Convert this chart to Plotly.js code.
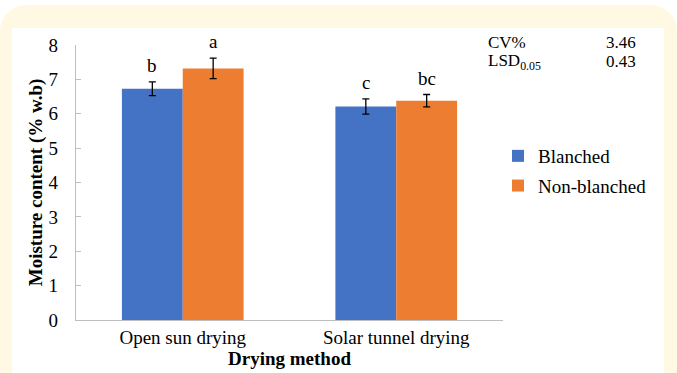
<!DOCTYPE html>
<html>
<head>
<meta charset="utf-8">
<script src="https://cdn.plot.ly/plotly-3.0.1.min.js"></script>
<style>
  html, body { margin:0; padding:0; background:#ffffff; }
  #wrap { position:relative; width:677px; height:373px; overflow:hidden; }
  #frame { position:absolute; left:0; top:5px; width:677px; height:400px; background:#FFF9E3; border-radius:26px; }
  #panel { position:absolute; left:12px; top:28px; width:652px; height:360px; background:#ffffff; }
  #chart { position:absolute; left:0; top:0; width:677px; height:373px; }
</style>
</head>
<body>
<div id="wrap">
  <div id="frame"></div>
  <div id="panel"></div>
  <div id="chart"></div>
</div>
<script>
const categories = ["Open sun drying", "Solar tunnel drying"];
const blanched = [6.73, 6.21];
const blanchedErr = [0.20, 0.22];
const blanchedLetters = ["b", "c"];
const nonBlanched = [7.32, 6.38];
const nonBlanchedErr = [0.30, 0.18];
const nonBlanchedLetters = ["a", "bc"];
const yTicks = [0, 1, 2, 3, 4, 5, 6, 7, 8];
const statLabels = ["CV%", "LSD<sub>0.05</sub>"];
const statValues = ["3.46", "0.43"];

const FONT = "'Liberation Serif', 'Times New Roman', serif";
const FS = 19;

const traces = [
  {
    type: "bar", name: "Blanched", x: categories, y: blanched,
    marker: {color: "#4472C4"}, legendgroup: "g1",
    error_y: {type: "data", array: blanchedErr, visible: true, color: "#000000", thickness: 1.3, width: 3.5},
    hoverinfo: "none"
  },
  {
    type: "bar", name: "Non-blanched", x: categories, y: nonBlanched,
    marker: {color: "#ED7D31"}, legendgroup: "g2",
    error_y: {type: "data", array: nonBlanchedErr, visible: true, color: "#000000", thickness: 1.3, width: 3.5},
    hoverinfo: "none"
  }
];

const annotations = [];
categories.forEach((c, i) => {
  annotations.push({x: c, y: blanched[i] + blanchedErr[i], xref: "x", yref: "y", text: blanchedLetters[i],
    showarrow: false, yanchor: "bottom", xshift: -30.5, yshift: 4, font: {family: FONT, size: FS, color: "#000"}});
  annotations.push({x: c, y: nonBlanched[i] + nonBlanchedErr[i], xref: "x", yref: "y", text: nonBlanchedLetters[i],
    showarrow: false, yanchor: "bottom", xshift: 30.5, yshift: 4, font: {family: FONT, size: FS, color: "#000"}});
});
statLabels.forEach((t, i) => {
  annotations.push({x: 486, y: 43 + i * 19, xref: "paper", yref: "paper", text: t, showarrow: false,
    xanchor: "left", yanchor: "middle", font: {family: FONT, size: 17, color: "#000"}});
  annotations.push({x: 638, y: 43 + i * 19, xref: "paper", yref: "paper", text: statValues[i], showarrow: false,
    xanchor: "right", yanchor: "middle", font: {family: FONT, size: 17, color: "#000"}});
});
// convert pixel positions to paper coordinates
const L = 76, R = 174, T = 45, B = 53, W = 677, H = 373;
const pw = W - L - R, ph = H - T - B;
annotations.forEach(a => {
  if (a.xref === "paper") {
    a.x = (a.x - L) / pw;
    a.y = (H - B - a.y) / ph;
  }
});

const layout = {
  width: W, height: H,
  margin: {l: L, r: R, t: T, b: B, pad: 0},
  paper_bgcolor: "rgba(0,0,0,0)",
  plot_bgcolor: "rgba(0,0,0,0)",
  font: {family: FONT, size: FS, color: "#000"},
  barmode: "group", bargap: 0.43, bargroupgap: 0,
  showlegend: true,
  legend: {x: (498 - L) / pw, y: (H - B - 137) / ph, xanchor: "left", yanchor: "top",
    font: {family: FONT, size: FS, color: "#000"}, bgcolor: "rgba(0,0,0,0)",
    traceorder: "grouped", tracegroupgap: 2},
  xaxis: {
    showline: true, linecolor: "#BFBFBF", linewidth: 1.3, ticks: "", showgrid: false,
    tickfont: {family: FONT, size: FS, color: "#000"},
    title: {text: "<b>Drying method</b>", font: {family: FONT, size: FS, color: "#000"}, standoff: 3}
  },
  yaxis: {
    range: [0, 8], tickvals: yTicks, showline: true, linecolor: "#BFBFBF", linewidth: 1.3,
    ticks: "inside", ticklen: 5, tickcolor: "#BFBFBF", showgrid: false, zeroline: false,
    ticklabelstandoff: 13,
    tickfont: {family: FONT, size: FS, color: "#000"},
    title: {text: "<b>Moisture content (% w.b)</b>", font: {family: FONT, size: FS, color: "#000"}, standoff: 0}
  },
  annotations: annotations
};

Plotly.newPlot("chart", traces, layout, {displayModeBar: false, staticPlot: true});
</script>
</body>
</html>
